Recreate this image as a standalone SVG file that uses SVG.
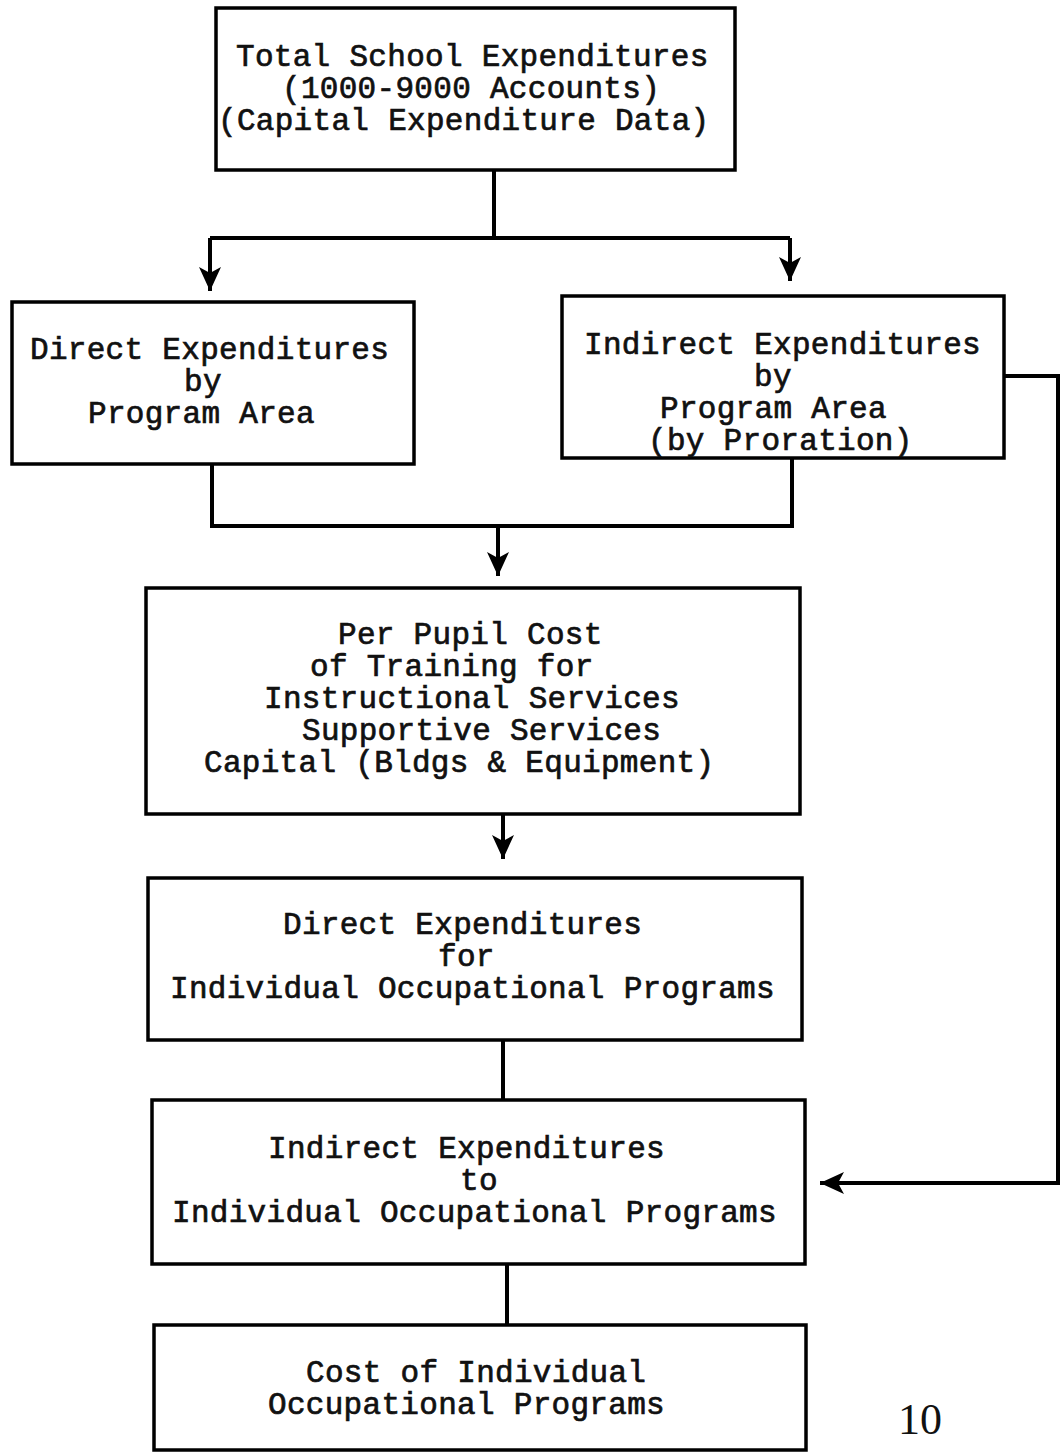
<svg xmlns="http://www.w3.org/2000/svg" width="1061" height="1453" viewBox="0 0 1061 1453">
<style>
.box{fill:#fff;stroke:#000;stroke-width:3.5}
.t{font-family:"Liberation Mono","Courier New",monospace;font-size:31px;letter-spacing:0.3px;fill:#111;stroke:#111;stroke-width:0.7}
.c{fill:none;stroke:#000;stroke-width:4}
</style>
<defs>
<marker id="ah" markerUnits="userSpaceOnUse" markerWidth="28" markerHeight="28" viewBox="0 0 28 28" refX="24" refY="14" orient="auto">
<path d="M0,3 L24,14 L0,25 L6,14 Z" fill="#000"/>
</marker>
</defs>
<rect width="1061" height="1453" fill="#fff"/>
<g id="connectors">
<path class="c" d="M494,170 V238"/>
<path class="c" d="M210,238 H790"/>
<path class="c" d="M210,238 V291" marker-end="url(#ah)"/>
<path class="c" d="M790,238 V281" marker-end="url(#ah)"/>
<path class="c" d="M212,464 V526 H792 V458"/>
<path class="c" d="M498,526 V576" marker-end="url(#ah)"/>
<path class="c" d="M503,814 V859" marker-end="url(#ah)"/>
<path class="c" d="M503,1040 V1100"/>
<path class="c" d="M507,1264 V1325"/>
<path class="c" d="M1004,376 H1058 V1183 H820" marker-end="url(#ah)"/>
</g>
<g id="n1">
<rect class="box" x="216" y="8" width="519" height="162"/>
<text class="t" x="236" y="66">Total School Expenditures</text>
<text class="t" x="282" y="98">(1000-9000 Accounts)</text>
<text class="t" x="218" y="130">(Capital Expenditure Data)</text>
</g>
<g id="n2">
<rect class="box" x="12" y="302" width="402" height="162"/>
<text class="t" x="30" y="359">Direct Expenditures</text>
<text class="t" x="184" y="391">by</text>
<text class="t" x="88" y="423">Program Area</text>
</g>
<g id="n3">
<rect class="box" x="562" y="296" width="442" height="162"/>
<text class="t" x="584" y="354">Indirect Expenditures</text>
<text class="t" x="754" y="386">by</text>
<text class="t" x="660" y="418">Program Area</text>
<text class="t" x="648" y="450">(by Proration)</text>
</g>
<g id="n4">
<rect class="box" x="146" y="588" width="654" height="226"/>
<text class="t" x="338" y="644">Per Pupil Cost</text>
<text class="t" x="310" y="676">of Training for</text>
<text class="t" x="264" y="708">Instructional Services</text>
<text class="t" x="302" y="740">Supportive Services</text>
<text class="t" x="204" y="772">Capital (Bldgs &amp; Equipment)</text>
</g>
<g id="n5">
<rect class="box" x="148" y="878" width="654" height="162"/>
<text class="t" x="283" y="934">Direct Expenditures</text>
<text class="t" x="438" y="966">for</text>
<text class="t" x="170" y="998">Individual Occupational Programs</text>
</g>
<g id="n6">
<rect class="box" x="152" y="1100" width="653" height="164"/>
<text class="t" x="268" y="1158">Indirect Expenditures</text>
<text class="t" x="460" y="1190">to</text>
<text class="t" x="172" y="1222">Individual Occupational Programs</text>
</g>
<g id="n7">
<rect class="box" x="154" y="1325" width="652" height="125"/>
<text class="t" x="306" y="1382">Cost of Individual</text>
<text class="t" x="268" y="1414">Occupational Programs</text>
</g>
<text x="898" y="1434" font-family="Liberation Serif, serif" font-size="44" fill="#111">10</text>
</svg>
